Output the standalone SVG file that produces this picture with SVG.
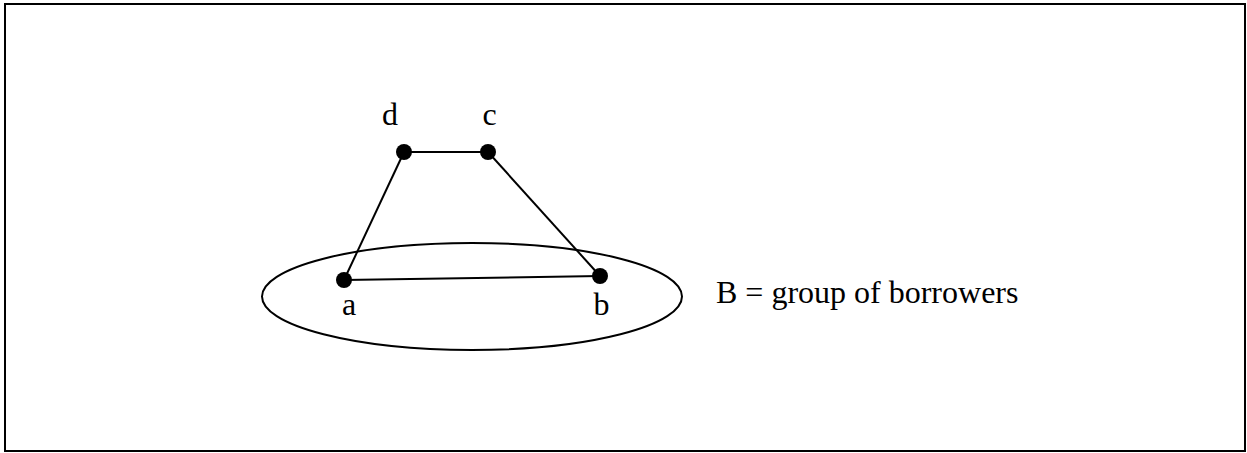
<svg xmlns="http://www.w3.org/2000/svg" width="1247" height="453" viewBox="0 0 1247 453">
<style>
.t{font-family:"Liberation Serif","Times New Roman",serif;font-size:32px;fill:#000}
.e{stroke:#000;stroke-width:2;fill:none}
.n{fill:#000}
</style>
<rect x="0" y="0" width="1247" height="453" fill="#fff"/>
<rect x="5" y="4" width="1240" height="447" fill="none" stroke="#000" stroke-width="2"/>
<g id="group-B">
<ellipse cx="472" cy="296.5" rx="210" ry="53.5" class="e"/>
<text class="t" x="716" y="303">B = group of borrowers</text>
</g>
<g id="connectors">
<line class="e" x1="404" y1="152" x2="488" y2="152"/>
<line class="e" x1="404" y1="152" x2="344" y2="280"/>
<line class="e" x1="488" y1="152" x2="600" y2="276"/>
<line class="e" x1="344" y1="280" x2="600" y2="276"/>
</g>
<g id="node-d"><circle class="n" cx="404" cy="152" r="8"/><text class="t" x="390" y="125" text-anchor="middle">d</text></g>
<g id="node-c"><circle class="n" cx="488" cy="152" r="8"/><text class="t" x="489.5" y="125" text-anchor="middle">c</text></g>
<g id="node-a"><circle class="n" cx="344" cy="280" r="8"/><text class="t" x="349" y="315" text-anchor="middle">a</text></g>
<g id="node-b"><circle class="n" cx="600" cy="276" r="8"/><text class="t" x="601.5" y="315" text-anchor="middle">b</text></g>
</svg>
